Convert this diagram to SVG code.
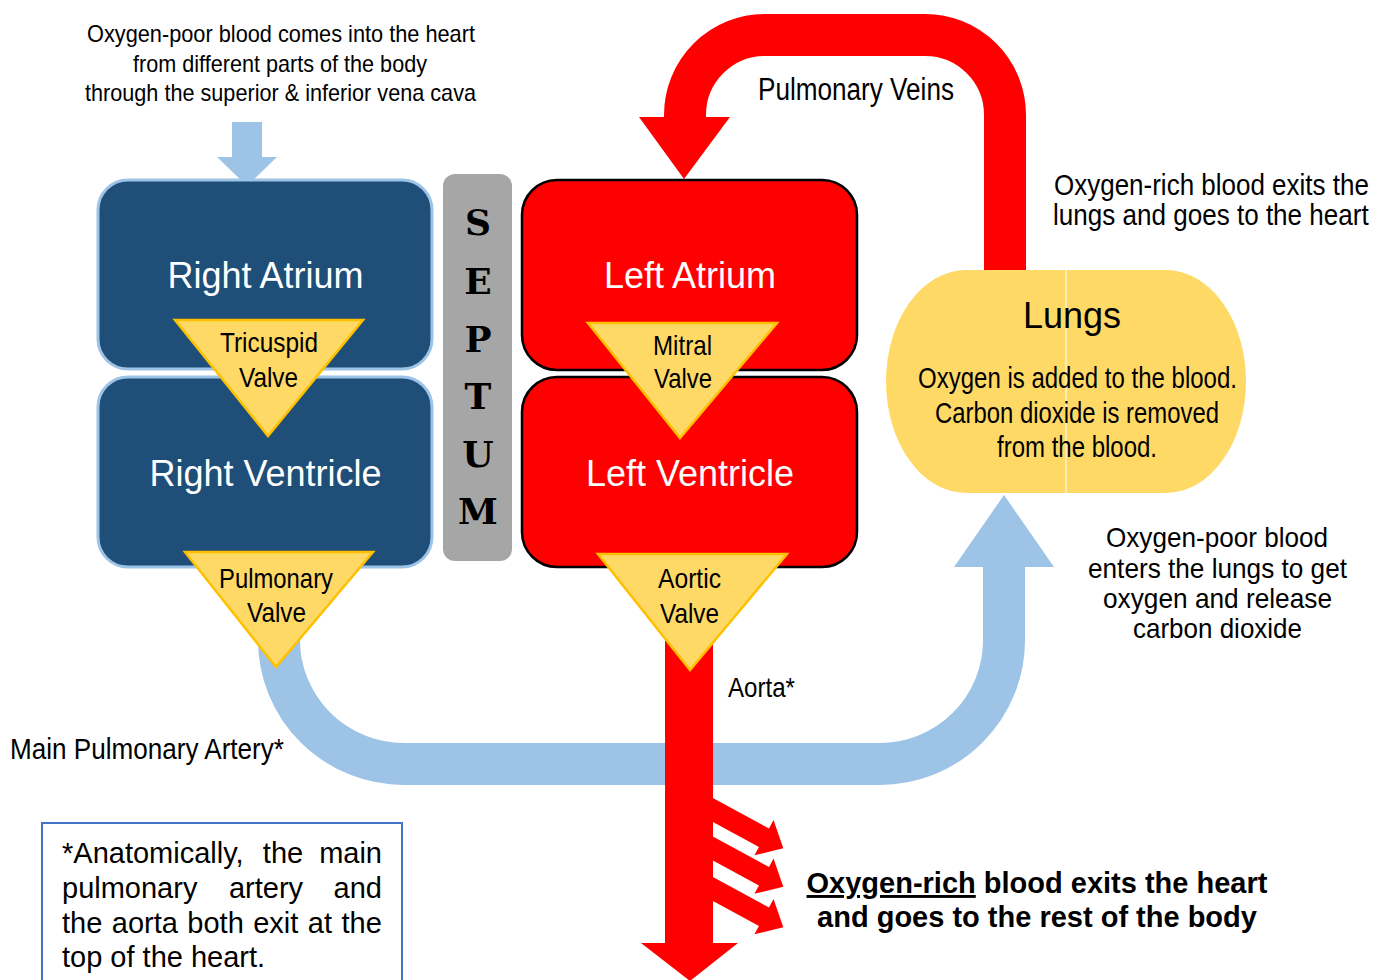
<svg xmlns="http://www.w3.org/2000/svg" width="1379" height="980" viewBox="0 0 1379 980">
<defs>
<style>
.t{font-family:"Liberation Sans",Arial,sans-serif;fill:#000}
.n{font-family:"Liberation Sans",Arial,sans-serif;fill:#000}
.big{font-family:"Liberation Sans",Arial,sans-serif;font-size:36px;fill:#fff;text-anchor:middle}
.rb{fill:#1F4E79;stroke:#9DC3E6;stroke-width:3}
.lb{fill:#FF0000;stroke:#000;stroke-width:2.5}
.valve{fill:#FFD966;stroke:#FFC000;stroke-width:2.5;stroke-linejoin:miter}
.sep{font-family:"DejaVu Serif","Liberation Serif",serif;font-weight:bold;font-size:36px;fill:#000;text-anchor:middle}
.red{fill:#FF0000}
.blue{fill:#9DC3E6}
</style>
</defs>
<rect width="1379" height="980" fill="#fff"/>

<!-- connectors -->
<g id="connectors">
  <path d="M279,600 V640 A125,124 0 0 0 404,764 H880 A124,124 0 0 0 1004,640 V566" fill="none" stroke="#9DC3E6" stroke-width="42"/>
  <polygon class="blue" points="954,567 1054,567 1004,495"/>
  <polygon class="blue" points="232,122 262,122 262,157 277,157 247,186 217,157 232,157"/>
  <path d="M1005,271 V115 A80,80 0 0 0 925,35 H765 A80,80 0 0 0 685,115 V120" fill="none" stroke="#FF0000" stroke-width="42"/>
  <polygon class="red" points="639,117 730,117 684,179"/>
  <rect class="red" x="665" y="620" width="48" height="325"/>
  <polygon class="red" points="641,943 738,943 690,981"/>
  <polygon class="red" transform="translate(713,810) rotate(28.5)" points="-20,-10.5 58,-10.5 58,-20 80,0 58,20 58,10.5 -20,10.5"/>
  <polygon class="red" transform="translate(713,848.5) rotate(28.5)" points="-20,-10.5 58,-10.5 58,-20 80,0 58,20 58,10.5 -20,10.5"/>
  <polygon class="red" transform="translate(713,889) rotate(28.5)" points="-20,-10.5 58,-10.5 58,-20 80,0 58,20 58,10.5 -20,10.5"/>
</g>

<g id="right-atrium">
  <rect class="rb" x="98" y="180" width="334" height="189" rx="30"/>
  <text class="big" x="265.5" y="288">Right Atrium</text>
</g>
<g id="right-ventricle">
  <rect class="rb" x="98" y="377" width="334" height="190" rx="30"/>
  <text class="big" x="265.5" y="486">Right Ventricle</text>
</g>
<g id="septum">
  <rect x="443" y="174" width="69" height="387" rx="12" fill="#A6A6A6"/>
  <text class="sep" x="478" y="235">S</text>
  <text class="sep" x="478" y="294">E</text>
  <text class="sep" x="478" y="352">P</text>
  <text class="sep" x="478" y="409">T</text>
  <text class="sep" x="478" y="467">U</text>
  <text class="sep" x="478" y="524">M</text>
</g>
<g id="left-atrium">
  <rect class="lb" x="522" y="180" width="335" height="190" rx="35"/>
  <text class="big" x="690" y="288">Left Atrium</text>
</g>
<g id="left-ventricle">
  <rect class="lb" x="522" y="377" width="335" height="190" rx="35"/>
  <text class="big" x="690" y="486">Left Ventricle</text>
</g>

<g id="tricuspid-valve">
  <polygon class="valve" points="175,320 363,320 268,436"/>
  <text class="n" font-size="28" x="220" y="352" textLength="98" lengthAdjust="spacingAndGlyphs">Tricuspid</text>
  <text class="n" font-size="28" x="239" y="387" textLength="59" lengthAdjust="spacingAndGlyphs">Valve</text>
</g>
<g id="pulmonary-valve">
  <polygon class="valve" points="185,552 373,552 276,667"/>
  <text class="n" font-size="28" x="219" y="588" textLength="114" lengthAdjust="spacingAndGlyphs">Pulmonary</text>
  <text class="n" font-size="28" x="247" y="622" textLength="59" lengthAdjust="spacingAndGlyphs">Valve</text>
</g>
<g id="mitral-valve">
  <polygon class="valve" points="588,323 777,323 680,438"/>
  <text class="n" font-size="28" x="653" y="355" textLength="59" lengthAdjust="spacingAndGlyphs">Mitral</text>
  <text class="n" font-size="28" x="654" y="388" textLength="58" lengthAdjust="spacingAndGlyphs">Valve</text>
</g>
<g id="aortic-valve">
  <polygon class="valve" points="598,554 787,554 690,670"/>
  <text class="n" font-size="28" x="658" y="588" textLength="63" lengthAdjust="spacingAndGlyphs">Aortic</text>
  <text class="n" font-size="28" x="660" y="623" textLength="59" lengthAdjust="spacingAndGlyphs">Valve</text>
</g>

<g id="lungs">
  <path d="M966,270 H1166 A80,111.5 0 0 1 1166,493 H966 A80,111.5 0 0 1 966,270 Z" fill="#FFD966"/>
  <line x1="1066" y1="270" x2="1066" y2="493" stroke="#FFF2CC" stroke-width="1.5"/>
  <text class="t" font-size="36" x="1072" y="328" text-anchor="middle">Lungs</text>
  <text class="n" font-size="30" x="918" y="388" textLength="319" lengthAdjust="spacingAndGlyphs">Oxygen is added to the blood.</text>
  <text class="n" font-size="30" x="935" y="423" textLength="284" lengthAdjust="spacingAndGlyphs">Carbon dioxide is removed</text>
  <text class="n" font-size="30" x="997" y="457" textLength="160" lengthAdjust="spacingAndGlyphs">from the blood.</text>
</g>

<g id="labels">
  <text class="n" font-size="24" x="87" y="42" textLength="388" lengthAdjust="spacingAndGlyphs">Oxygen-poor blood comes into the heart</text>
  <text class="n" font-size="24" x="133" y="72" textLength="294" lengthAdjust="spacingAndGlyphs">from different parts of the body</text>
  <text class="n" font-size="24" x="85" y="101" textLength="391" lengthAdjust="spacingAndGlyphs">through the superior &amp; inferior vena cava</text>
  <text class="n" font-size="31" x="758" y="100" textLength="196" lengthAdjust="spacingAndGlyphs">Pulmonary Veins</text>
  <g transform="translate(1054,195) scale(0.82,1)">
    <text class="n" font-size="29.5" x="0" y="0" textLength="384" lengthAdjust="spacingAndGlyphs">Oxygen-rich blood exits the</text>
  </g>
  <g transform="translate(1053,225) scale(0.82,1)">
    <text class="n" font-size="29.5" x="0" y="0" textLength="385" lengthAdjust="spacingAndGlyphs">lungs and goes to the heart</text>
  </g>
  <text class="n" font-size="28" x="1106" y="547" textLength="222" lengthAdjust="spacingAndGlyphs">Oxygen-poor blood</text>
  <text class="n" font-size="28" x="1088" y="578" textLength="259" lengthAdjust="spacingAndGlyphs">enters the lungs to get</text>
  <text class="n" font-size="28" x="1103" y="608" textLength="229" lengthAdjust="spacingAndGlyphs">oxygen and release</text>
  <text class="n" font-size="28" x="1133" y="638" textLength="169" lengthAdjust="spacingAndGlyphs">carbon dioxide</text>
  <text class="n" font-size="29" x="10" y="759" textLength="274" lengthAdjust="spacingAndGlyphs">Main Pulmonary Artery*</text>
  <text class="n" font-size="28" x="728" y="697" textLength="67" lengthAdjust="spacingAndGlyphs">Aorta*</text>
  <text class="t" font-size="29" font-weight="bold" x="1037" y="893" text-anchor="middle"><tspan text-decoration="underline">Oxygen-rich</tspan> blood exits the heart</text>
  <text class="t" font-size="29" font-weight="bold" x="1037" y="927" text-anchor="middle">and goes to the rest of the body</text>
</g>

<g id="footnote">
  <rect x="42" y="823" width="360" height="170" fill="#fff" stroke="#4472C4" stroke-width="2"/>
  <text class="t" font-size="29" x="62" y="863">*Anatomically,</text>
  <text class="t" font-size="29" x="283" y="863" text-anchor="middle">the</text>
  <text class="t" font-size="29" x="382" y="863" text-anchor="end">main</text>
  <text class="t" font-size="29" x="62" y="898">pulmonary</text>
  <text class="t" font-size="29" x="266" y="898" text-anchor="middle">artery</text>
  <text class="t" font-size="29" x="382" y="898" text-anchor="end">and</text>
  <text class="t" font-size="29" x="62" y="933" word-spacing="1.4">the aorta both exit at the</text>
  <text class="t" font-size="29" x="62" y="967">top of the heart.</text>
</g>
</svg>
